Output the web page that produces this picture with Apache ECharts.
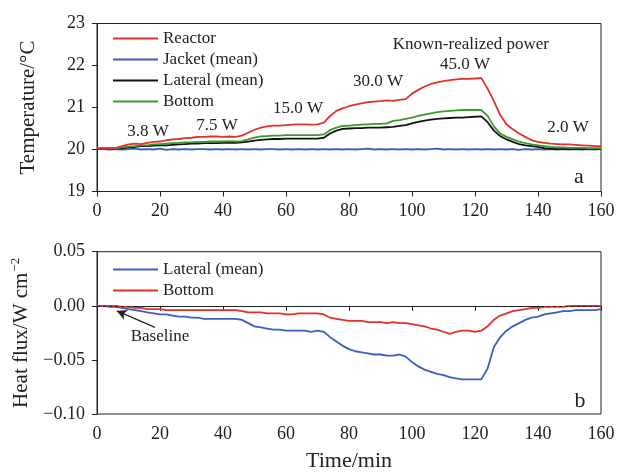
<!DOCTYPE html>
<html><head><meta charset="utf-8">
<script src="https://cdn.jsdelivr.net/npm/echarts@6/dist/echarts.min.js"></script>
<style>html,body{margin:0;padding:0;background:#fff}#c{width:618px;height:473px}</style>
</head><body><div id="c"></div>
<script>
const time = [0,2,4,6,8,10,12,14,16,18,20,22,24,26,28,30,32,34,36,38,40,42,44,46,48,50,52,54,56,58,60,62,64,66,68,70,72,74,76,78,80,82,84,86,88,90,92,94,96,98,100,102,104,106,108,110,112,114,116,118,120,122,124,126,128,130,132,134,136,138,140,142,144,146,148,150,152,154,156,158,160];
const reactorT = [20.03,20.03,20.03,20.04,20.08,20.12,20.14,20.13,20.16,20.18,20.19,20.22,20.24,20.25,20.27,20.28,20.30,20.30,20.31,20.31,20.30,20.31,20.30,20.33,20.40,20.47,20.52,20.55,20.57,20.57,20.58,20.59,20.60,20.60,20.59,20.60,20.64,20.80,20.92,20.98,21.03,21.07,21.10,21.13,21.14,21.15,21.17,21.16,21.18,21.20,21.33,21.42,21.50,21.56,21.60,21.63,21.65,21.67,21.68,21.68,21.69,21.70,21.45,21.15,20.82,20.60,20.48,20.38,20.30,20.22,20.18,20.16,20.14,20.13,20.12,20.12,20.11,20.10,20.09,20.08,20.08];
const jacketT = [20.01,20.01,20.00,20.01,20.00,20.01,20.02,20.00,20.01,20.00,20.02,19.99,20.01,20.00,20.01,20.00,20.01,20.01,20.00,20.01,20.00,20.01,20.00,20.01,20.00,20.01,20.00,20.01,20.01,20.00,20.01,20.00,20.01,20.00,20.01,20.00,20.01,20.00,20.01,20.00,20.01,20.00,20.01,20.02,20.00,20.01,20.00,20.01,20.00,20.01,20.00,20.01,20.00,20.01,20.02,20.00,20.01,20.00,20.01,20.00,20.01,20.00,20.01,20.00,20.01,20.00,20.01,19.99,20.01,20.00,20.01,20.00,20.01,20.00,20.01,20.00,20.01,20.00,20.01,20.00,20.01];
const lateralT = [20.02,20.02,20.02,20.02,20.03,20.05,20.06,20.08,20.08,20.09,20.10,20.10,20.11,20.12,20.13,20.14,20.14,20.15,20.15,20.15,20.16,20.16,20.16,20.17,20.19,20.21,20.23,20.24,20.25,20.25,20.26,20.26,20.26,20.26,20.26,20.26,20.28,20.38,20.45,20.49,20.50,20.51,20.51,20.52,20.52,20.52,20.53,20.54,20.56,20.58,20.62,20.66,20.69,20.71,20.73,20.74,20.75,20.76,20.76,20.77,20.78,20.79,20.65,20.45,20.32,20.24,20.18,20.13,20.10,20.08,20.06,20.03,20.02,20.01,20.01,20.01,20.01,20.01,20.01,20.01,20.01];
const bottomT = [20.03,20.03,20.03,20.03,20.05,20.07,20.08,20.10,20.10,20.12,20.13,20.14,20.15,20.16,20.17,20.17,20.18,20.18,20.19,20.19,20.19,20.20,20.19,20.20,20.24,20.28,20.31,20.32,20.33,20.33,20.34,20.34,20.34,20.34,20.34,20.34,20.36,20.46,20.52,20.56,20.57,20.58,20.59,20.60,20.61,20.61,20.62,20.68,20.70,20.73,20.76,20.80,20.83,20.86,20.89,20.91,20.92,20.93,20.94,20.94,20.94,20.94,20.80,20.55,20.38,20.30,20.24,20.19,20.15,20.12,20.10,20.08,20.06,20.05,20.05,20.04,20.04,20.04,20.03,20.03,20.03];
const lateralFlux = [0,0,-0.001,-0.001,-0.002,-0.003,-0.004,-0.005,-0.006,-0.007,-0.008,-0.008,-0.009,-0.010,-0.010,-0.011,-0.011,-0.012,-0.012,-0.012,-0.012,-0.012,-0.012,-0.013,-0.016,-0.019,-0.020,-0.021,-0.022,-0.022,-0.023,-0.023,-0.023,-0.023,-0.024,-0.023,-0.024,-0.029,-0.033,-0.037,-0.040,-0.042,-0.043,-0.044,-0.045,-0.045,-0.046,-0.046,-0.045,-0.047,-0.052,-0.056,-0.059,-0.061,-0.063,-0.064,-0.066,-0.067,-0.068,-0.068,-0.068,-0.068,-0.058,-0.038,-0.029,-0.023,-0.019,-0.016,-0.013,-0.011,-0.010,-0.008,-0.007,-0.006,-0.005,-0.005,-0.004,-0.004,-0.004,-0.004,-0.003];
const bottomFlux = [0,0,0,0,-0.001,-0.001,-0.002,-0.002,-0.003,-0.003,-0.003,-0.004,-0.004,-0.004,-0.004,-0.004,-0.004,-0.004,-0.004,-0.004,-0.004,-0.004,-0.004,-0.005,-0.006,-0.006,-0.006,-0.007,-0.007,-0.007,-0.008,-0.008,-0.007,-0.007,-0.007,-0.007,-0.008,-0.011,-0.012,-0.013,-0.014,-0.014,-0.014,-0.015,-0.015,-0.015,-0.016,-0.015,-0.016,-0.016,-0.017,-0.018,-0.019,-0.021,-0.022,-0.024,-0.026,-0.024,-0.023,-0.023,-0.024,-0.023,-0.019,-0.013,-0.009,-0.007,-0.005,-0.004,-0.003,-0.002,-0.002,-0.001,-0.001,-0.001,-0.001,0,0,0,0,0,0];
const xTicks = [0,20,40,60,80,100,120,140,160];
const powerLabels = ['3.8 W','7.5 W','15.0 W','30.0 W','45.0 W','Known-realized power','2.0 W'];
const powerLabelPos = [[16.2,20.42],[38.1,20.58],[63.8,20.98],[89.2,21.61],[116.8,22.02],[118.7,22.51],[149.5,20.52]];

const FONT = '"Liberation Serif","DejaVu Serif",serif';
const RED = '#e3302b', BLUE = '#3a5fc4', BLACK = '#111111', GREEN = '#3c9a2c';
const pair = a => a.map((v,i)=>[time[i],v]);
const fmt = v => { const s = Math.abs(v).toFixed(2); return (v < -1e-9 ? '\u2212' : '') + s; };

const chart = echarts.init(document.getElementById('c'), null, {renderer:'canvas'});
const axisCommon = {
  axisLine:{show:true,lineStyle:{color:'#222',width:1}},
  axisTick:{show:true,inside:false,length:5,lineStyle:{color:'#222'}},
  splitLine:{show:false},
  axisLabel:{color:'#222',fontFamily:FONT,fontSize:18}
};
const xAx = (gi) => Object.assign({}, axisCommon, {type:'value',gridIndex:gi,min:0,max:160,interval:20,
  axisLabel:Object.assign({},axisCommon.axisLabel,{margin:11})});
const LW = 1.8;

chart.setOption({
  animation:false,
  backgroundColor:'#fff',
  grid:[
    {left:97,right:17,top:23.5,height:168,show:true,borderColor:'#222',borderWidth:1,backgroundColor:'transparent'},
    {left:97,right:17,top:251.7,height:168,show:true,borderColor:'#222',borderWidth:1,backgroundColor:'transparent'}
  ],
  xAxis:[
    xAx(0),
    Object.assign(xAx(1),{name:'Time/min',nameLocation:'middle',nameGap:36,nameTextStyle:{fontFamily:FONT,fontSize:22,color:'#222'}})
  ],
  yAxis:[
    Object.assign({},axisCommon,{type:'value',gridIndex:0,min:19,max:23,interval:1,
      name:'Temperature/°C',nameLocation:'middle',nameGap:58,nameTextStyle:{fontFamily:FONT,fontSize:21,color:'#222'},
      axisLabel:Object.assign({},axisCommon.axisLabel,{margin:12})}),
    Object.assign({},axisCommon,{type:'value',gridIndex:1,min:-0.10,max:0.05,interval:0.05,
      name:'Heat flux/W cm{sup|\u22122}',nameLocation:'middle',nameGap:58,
      nameTextStyle:{fontFamily:FONT,fontSize:21,color:'#222',rich:{sup:{fontFamily:FONT,fontSize:13,color:'#222',verticalAlign:'top',padding:[0,0,12,1]}}},
      axisLabel:Object.assign({},axisCommon.axisLabel,{margin:12,formatter:fmt})})
  ],
  legend:[
    {orient:'vertical',left:108,top:25,itemWidth:45,itemHeight:2,icon:'rect',itemGap:4,
     data:['Reactor','Jacket (mean)','Lateral (mean)','Bottom'],
     textStyle:{fontFamily:FONT,fontSize:17,color:'#222',lineHeight:17}},
    {orient:'vertical',left:108,top:256,itemWidth:45,itemHeight:2,icon:'rect',itemGap:4,
     data:['flux:Lateral (mean)','flux:Bottom'],formatter:n=>n.replace('flux:',''),
     textStyle:{fontFamily:FONT,fontSize:17,color:'#222',lineHeight:17}}
  ],
  series:[
    {name:'Jacket (mean)',type:'line',xAxisIndex:0,yAxisIndex:0,data:pair(jacketT),showSymbol:false,lineStyle:{color:BLUE,width:LW},itemStyle:{color:BLUE}},
    {name:'Lateral (mean)',type:'line',xAxisIndex:0,yAxisIndex:0,data:pair(lateralT),showSymbol:false,lineStyle:{color:BLACK,width:LW},itemStyle:{color:BLACK}},
    {name:'Bottom',type:'line',xAxisIndex:0,yAxisIndex:0,data:pair(bottomT),showSymbol:false,lineStyle:{color:GREEN,width:LW},itemStyle:{color:GREEN}},
    {name:'Reactor',type:'line',xAxisIndex:0,yAxisIndex:0,data:pair(reactorT),showSymbol:false,lineStyle:{color:RED,width:LW},itemStyle:{color:RED},
     markPoint:{silent:true,symbol:'circle',symbolSize:0,
       label:{show:true,position:'inside',fontFamily:FONT,fontSize:17,color:'#222'},
       data:powerLabels.map((t,i)=>({coord:powerLabelPos[i],value:t,label:{formatter:t}})).concat([
         {coord:[153,19.35],value:'a',label:{formatter:'a',fontSize:22}}])}},
    {name:'flux:Lateral (mean)',type:'line',xAxisIndex:1,yAxisIndex:1,data:pair(lateralFlux),showSymbol:false,lineStyle:{color:BLUE,width:LW},itemStyle:{color:BLUE},
     markLine:{silent:true,symbol:'none',lineStyle:{color:'#222',type:[3,3],width:1},label:{show:false},data:[{yAxis:0}]}},
    {name:'flux:Bottom',type:'line',xAxisIndex:1,yAxisIndex:1,data:pair(bottomFlux),showSymbol:false,lineStyle:{color:RED,width:LW},itemStyle:{color:RED},
     markLine:{silent:true,lineStyle:{color:'#222',type:'solid',width:1.2},label:{show:false},symbolSize:[8,10],
       data:[[{coord:[18.4,-0.0199],symbol:'none'},{coord:[6.3,-0.0047],symbol:'arrow'}]]},
     markPoint:{silent:true,symbol:'circle',symbolSize:0,
       label:{show:true,position:'inside',fontFamily:FONT,fontSize:17,color:'#222'},
       data:[{coord:[20,-0.0288],value:'Baseline',label:{formatter:'Baseline'}},
             {coord:[153.3,-0.0884],value:'b',label:{formatter:'b',fontSize:22}}]}}
  ]
});
</script></body></html>
